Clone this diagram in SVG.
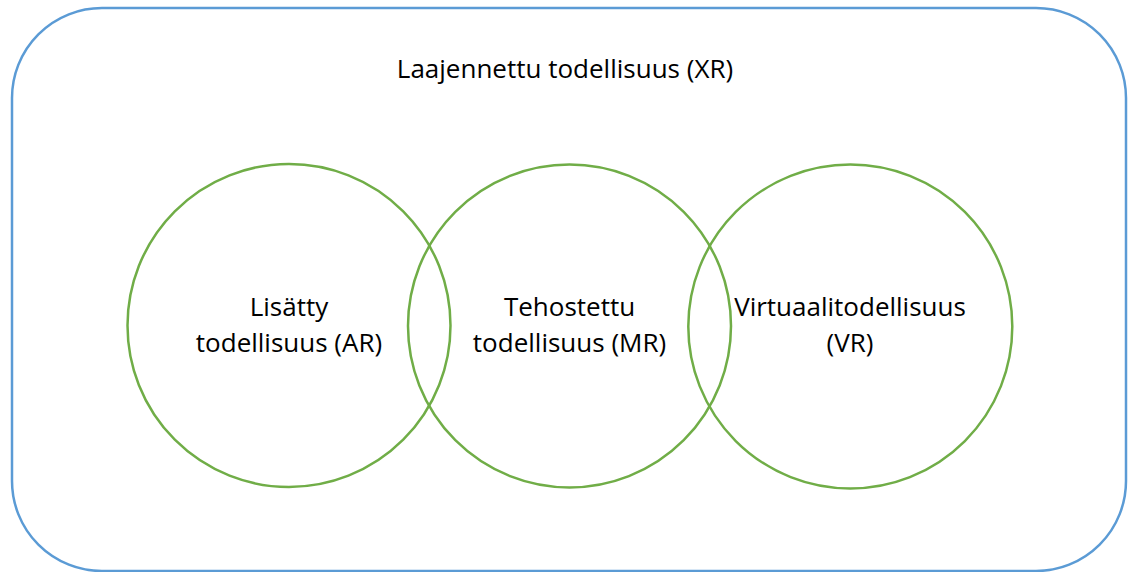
<svg xmlns="http://www.w3.org/2000/svg" width="1128" height="572" viewBox="0 0 1128 572">
<style>
.t{font-family:"Open Sans","Liberation Sans",sans-serif;font-size:26px;fill:#000;text-anchor:middle}
.c{fill:none;stroke:#70AD47;stroke-width:2.5}
</style>
<rect width="1128" height="572" fill="#fff"/>
<g id="xr">
<rect x="12" y="8" width="1114" height="563" rx="90" ry="90" fill="none" stroke="#5B9BD5" stroke-width="2.5"/>
<text class="t" x="565" y="78">Laajennettu todellisuus (XR)</text>
</g>
<g id="ar">
<circle class="c" cx="289" cy="325.5" r="161.5"/>
<text class="t" x="289" y="316">Lisätty</text>
<text class="t" x="289" y="352">todellisuus (AR)</text>
</g>
<g id="mr">
<circle class="c" cx="569.5" cy="326" r="161.5"/>
<text class="t" x="569.5" y="316">Tehostettu</text>
<text class="t" x="569.5" y="352">todellisuus (MR)</text>
</g>
<g id="vr">
<circle class="c" cx="850.3" cy="326.5" r="162"/>
<text class="t" x="850" y="316">Virtuaalitodellisuus</text>
<text class="t" x="850" y="352">(VR)</text>
</g>
<g id="connectors"/>
</svg>
